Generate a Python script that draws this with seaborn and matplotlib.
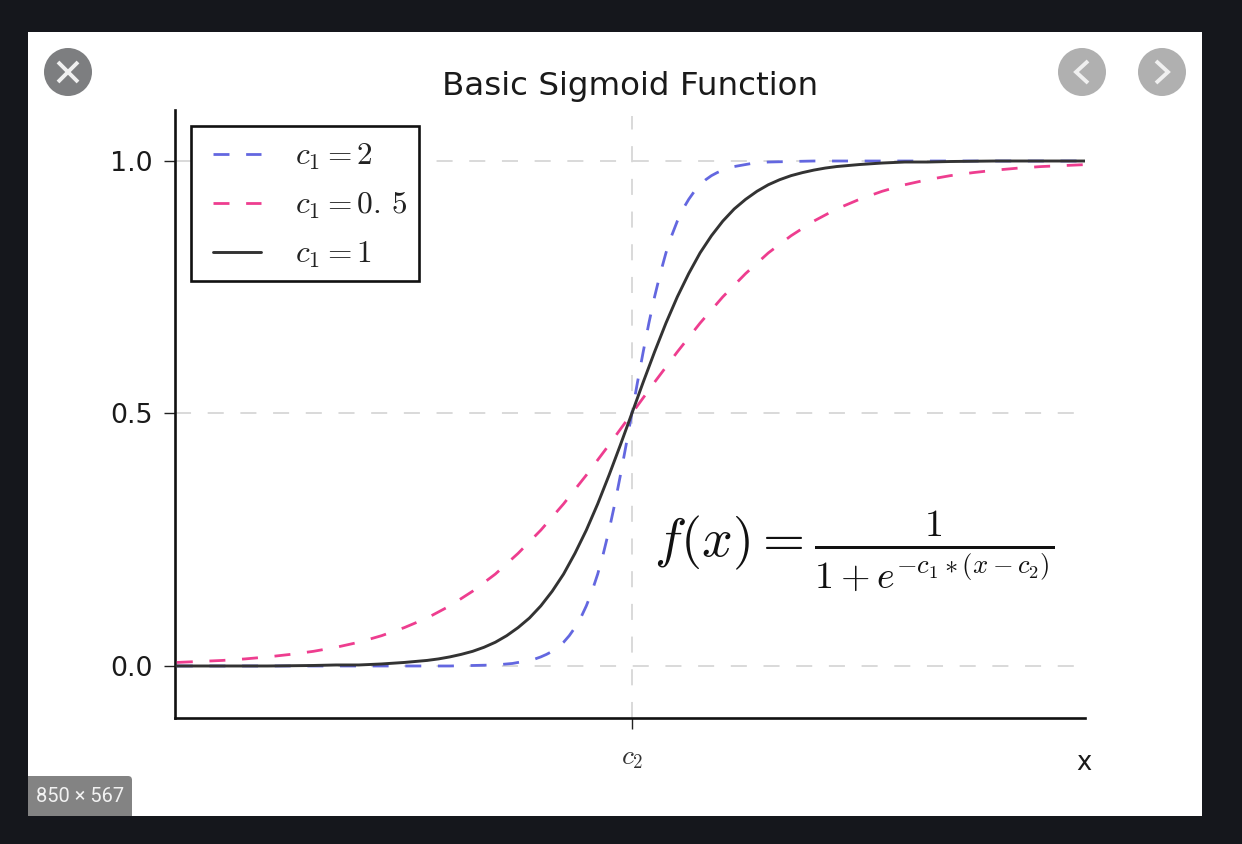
import matplotlib
matplotlib.use("Agg")
import matplotlib.pyplot as plt
import seaborn as sns
from matplotlib.patches import Rectangle, Circle, FancyBboxPatch
from matplotlib.lines import Line2D

# ---- values ----
x_c1_2 = [-10, -9, -8, -7, -6, -5, -4, -3.5, -3,
          -2.875, -2.75, -2.625, -2.5, -2.375, -2.25, -2.125, -2, -1.875, -1.75, -1.625, -1.5,
          -1.375, -1.25, -1.125, -1, -0.875, -0.75, -0.625, -0.5, -0.375, -0.25, -0.125,
          0, 0.125, 0.25, 0.375, 0.5, 0.625, 0.75, 0.875, 1, 1.125, 1.25, 1.375, 1.5,
          1.625, 1.75, 1.875, 2, 2.125, 2.25, 2.375, 2.5, 2.625, 2.75, 2.875, 3,
          3.5, 4, 5, 6, 7, 8, 9, 10]
y_c1_2 = [0, 0, 0, 0, 0, 0, 0, 0.001, 0.002,
          0.003, 0.004, 0.005, 0.007, 0.009, 0.011, 0.014, 0.018, 0.023, 0.029, 0.037, 0.047,
          0.060, 0.076, 0.095, 0.119, 0.148, 0.182, 0.223, 0.269, 0.321, 0.378, 0.438,
          0.5, 0.562, 0.622, 0.679, 0.731, 0.777, 0.818, 0.852, 0.881, 0.905, 0.924, 0.940, 0.953,
          0.963, 0.971, 0.977, 0.982, 0.986, 0.989, 0.991, 0.993, 0.995, 0.996, 0.997, 0.998,
          0.999, 1, 1, 1, 1, 1, 1, 1]
x_c1_05 = [-10, -9.5, -9, -8.5, -8, -7.5, -7, -6.5, -6, -5.5, -5, -4.5, -4, -3.5, -3, -2.5, -2, -1.5, -1, -0.5,
           0, 0.5, 1, 1.5, 2, 2.5, 3, 3.5, 4, 4.5, 5, 5.5, 6, 6.5, 7, 7.5, 8, 8.5, 9, 9.5, 10]
y_c1_05 = [0.007, 0.009, 0.011, 0.014, 0.018, 0.023, 0.029, 0.037, 0.047, 0.060, 0.076, 0.095, 0.119,
           0.148, 0.182, 0.223, 0.269, 0.321, 0.378, 0.438,
           0.5, 0.562, 0.622, 0.679, 0.731, 0.777, 0.818, 0.852, 0.881, 0.905, 0.924, 0.940, 0.953,
           0.963, 0.971, 0.977, 0.982, 0.986, 0.989, 0.991, 0.993]
x_c1_1 = [-10, -9, -8, -7, -6.5, -6, -5.5, -5, -4.75, -4.5, -4.25, -4, -3.75, -3.5, -3.25, -3, -2.75, -2.5,
          -2.25, -2, -1.75, -1.5, -1.25, -1, -0.75, -0.5, -0.25,
          0, 0.25, 0.5, 0.75, 1, 1.25, 1.5, 1.75, 2, 2.25, 2.5, 2.75, 3, 3.25, 3.5, 3.75, 4,
          4.25, 4.5, 4.75, 5, 5.5, 6, 6.5, 7, 8, 9, 10]
y_c1_1 = [0, 0, 0, 0.001, 0.002, 0.002, 0.004, 0.007, 0.009, 0.011, 0.014, 0.018, 0.023, 0.029, 0.037, 0.047,
          0.060, 0.076, 0.095, 0.119, 0.148, 0.182, 0.223, 0.269, 0.321, 0.378, 0.438,
          0.5, 0.562, 0.622, 0.679, 0.731, 0.777, 0.818, 0.852, 0.881, 0.905, 0.924, 0.940, 0.953,
          0.963, 0.971, 0.977, 0.982, 0.986, 0.989, 0.991, 0.993, 0.996, 0.998, 0.998, 0.999, 1, 1, 1]
series_labels = [r"$c_1=2$", r"$c_1=0.\,5$", r"$c_1=1$"]
y_ticks = [0.0, 0.5, 1.0]
y_tick_labels = ["0.0", "0.5", "1.0"]
x_ticks = [0]
x_tick_labels = [r"$c_2$"]
title_text = "Basic Sigmoid Function"
formula_text = r"$f(x)=\frac{1}{1+e^{-c_1*(x-c_2)}}$"
badge_text = "850 × 567"

W, H = 1242, 844
DARK = "#15171c"
BLUE = "#6367e0"
PINK = "#ee3d8f"
INK = "#333333"
GRID = "#cfcfcf"

sns.set_theme(style="white")
plt.rcParams["font.family"] = ["DejaVu Sans"]
plt.rcParams["mathtext.fontset"] = "cm"

fig = plt.figure(figsize=(W / 100, H / 100), dpi=100, facecolor=DARK)


def fx(px):
    return px / W


def fy(py):
    return 1 - py / H


# white picture area of the lightbox
fig.add_artist(Rectangle((fx(28), fy(816)), (1202 - 28) / W, (816 - 32) / H,
                         transform=fig.transFigure, facecolor="white", edgecolor="none", zorder=-5))

ax = fig.add_axes([fx(175), fy(718), (1085 - 175) / W, (718 - 110) / H])
ax.patch.set_alpha(0)

dash_style = (0, (5.75, 6.0))
grid_style = (0, (10.5, 10.9))
for yv in y_ticks:
    ax.axhline(yv, color=GRID, lw=1.1, ls=grid_style, xmax=0.99, zorder=1)
ax.axvline(0, color=GRID, lw=1.1, ls=grid_style, ymax=0.99, zorder=1)

sns.lineplot(x=x_c1_2, y=y_c1_2, ax=ax, color=BLUE, linewidth=2.0, linestyle=dash_style,
             label=series_labels[0], zorder=3)
sns.lineplot(x=x_c1_05, y=y_c1_05, ax=ax, color=PINK, linewidth=2.0, linestyle=dash_style,
             label=series_labels[1], zorder=3)
sns.lineplot(x=x_c1_1, y=y_c1_1, ax=ax, color=INK, linewidth=2.1,
             label=series_labels[2], zorder=4)

ax.set_xlim(-10.04, 9.96)
ax.set_ylim(-0.103, 1.101)
ax.set_xticks(x_ticks, x_tick_labels)
ax.set_yticks(y_ticks, y_tick_labels)
ax.tick_params(axis="y", direction="out", length=8, width=1.0, color="#222222",
               labelsize=19.4, labelcolor="#1a1a1a", pad=8, left=True)
ax.tick_params(axis="x", direction="out", length=8, width=1.0, color="#222222",
               labelsize=19.5, labelcolor="#333333", pad=11.5, bottom=True)
for side in ["top", "right"]:
    ax.spines[side].set_visible(False)
for side in ["left", "bottom"]:
    ax.spines[side].set_color("#111111")
    ax.spines[side].set_linewidth(1.9)

ax.set_xlabel("x", fontsize=18.5, color="#1a1a1a")
ax.xaxis.set_label_coords((1084 - 175) / 910, -(770 - 718) / 608, transform=ax.transAxes)
ax.xaxis.label.set_verticalalignment("baseline")
ax.set_title(title_text, fontsize=23.4, color="#1a1a1a", x=(630 - 175) / 910, y=1.0, pad=10.5)

ax.text(0.49, 0.225, formula_text, fontsize=39, color="#111111", ha="left", va="center", zorder=5)

# legend box drawn on its own so its padding can differ per direction
ax.add_patch(Rectangle((191, H - 281), 228, 155, transform=None, facecolor="white",
                       edgecolor="#111111", linewidth=1.9, zorder=5, clip_on=False))
leg = ax.legend(loc="upper left", bbox_to_anchor=((213 - 175) / 910, 1 - (142 - 110) / 608),
                borderaxespad=0, borderpad=0, frameon=False, fontsize=22.6, handlelength=1.53,
                handletextpad=1.08, labelspacing=0.595, labelcolor="#222222")
leg.set_zorder(6)

# lightbox controls
for cx, col in [(68, "#7d7e80"), (1082, "#b0b0b0"), (1162, "#b0b0b0")]:
    fig.add_artist(Circle((cx, H - 72), 24, transform=None, facecolor=col, edgecolor="none", zorder=8))


def stroke(points):
    xs = [fx(p[0]) for p in points]
    ys = [fy(p[1]) for p in points]
    fig.add_artist(Line2D(xs, ys, transform=fig.transFigure, color="#f0f0f0", lw=2.8,
                          solid_capstyle="butt", solid_joinstyle="miter", zorder=9))


stroke([(58, 62), (78, 82)])
stroke([(58, 82), (78, 62)])
stroke([(1088, 61), (1076, 72), (1088, 83)])
stroke([(1156, 61), (1168, 72), (1156, 83)])

BADGE = "#838383"
fig.add_artist(FancyBboxPatch((28, H - 816), 104, 40, boxstyle="round,pad=0,rounding_size=4",
                              transform=None, facecolor=BADGE, edgecolor="none", zorder=8))
fig.add_artist(Rectangle((28, H - 816), 70, 40, transform=None, facecolor=BADGE, edgecolor="none", zorder=8))
fig.add_artist(Rectangle((28, H - 816), 104, 20, transform=None, facecolor=BADGE, edgecolor="none", zorder=8))
fig.text(fx(80), fy(796), badge_text, color="#f2f2f2", fontsize=14.4, family="Roboto",
         ha="center", va="center", zorder=9)

fig.savefig("out.png", dpi=100, facecolor=DARK)
